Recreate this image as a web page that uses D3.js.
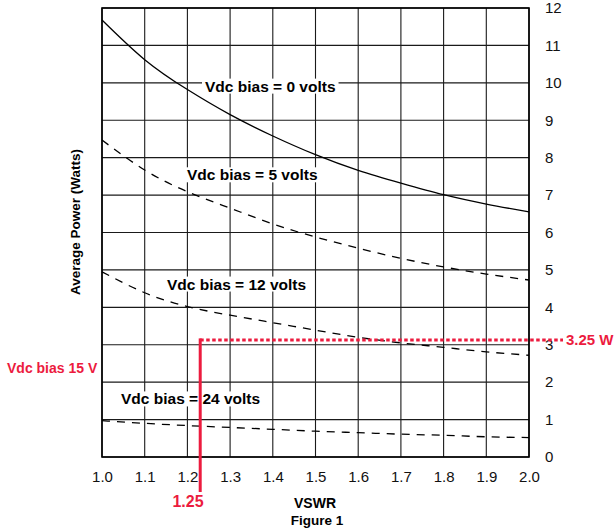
<!DOCTYPE html>
<html>
<head>
<meta charset="utf-8">
<script src="https://cdn.jsdelivr.net/npm/d3@7"></script>
<style>
  body { margin: 0; background: white; }
  svg { display: block; font-family: "Liberation Sans", Arial, sans-serif; }
</style>
</head>
<body>
<div id="chart"></div>
<script>
// VSWR sample points and the four bias curves (watts)
var vswr = [1.0, 1.1, 1.2, 1.3, 1.4, 1.5, 1.6, 1.7, 1.8, 1.9, 2.0];
var bias0 = [11.68, 10.62, 9.82, 9.15, 8.58, 8.08, 7.66, 7.32, 7.01, 6.76, 6.55];
var bias5 = [8.47, 7.67, 7.09, 6.65, 6.23, 5.88, 5.58, 5.31, 5.08, 4.89, 4.73];
var bias12 = [4.95, 4.39, 4.02, 3.79, 3.59, 3.39, 3.2, 3.05, 2.93, 2.81, 2.72];
var bias24 = [0.97, 0.9, 0.84, 0.79, 0.74, 0.69, 0.65, 0.61, 0.58, 0.54, 0.52];
var curveNames = ["Vdc bias = 0 volts", "Vdc bias = 5 volts", "Vdc bias = 12 volts", "Vdc bias = 24 volts"];
var curveDashed = [false, true, true, true];

var xTicks = [1.0, 1.1, 1.2, 1.3, 1.4, 1.5, 1.6, 1.7, 1.8, 1.9, 2.0];
var yTicks = [0, 1, 2, 3, 4, 5, 6, 7, 8, 9, 10, 11, 12];

// red operating point marker
var markerVswr = 1.23, markerWatts = 3.13;
var markerVswrLabel = "1.25", markerWattsLabel = "3.25 W", markerBiasLabel = "Vdc bias 15 V";

var W = 616, H = 529;
var pL = 102, pR = 529, pT = 8, pB = 457;
var red = "#ec1b3e";

var svg = d3.select("#chart").append("svg").attr("width", W).attr("height", H);

var x = d3.scaleLinear().domain([1.0, 2.0]).range([pL, pR]);
var y = d3.scaleLinear().domain([0, 12]).range([pB, pT]);

/* grid */
var grid = svg.append("g").attr("stroke", "#1a1a1a").attr("stroke-width", 1.1);
grid.selectAll("line.v").data(xTicks).enter().append("line")
    .attr("x1", function(d) { return x(d); }).attr("x2", function(d) { return x(d); })
    .attr("y1", pT).attr("y2", pB);
grid.selectAll("line.h").data(yTicks).enter().append("line")
    .attr("x1", pL).attr("x2", pR)
    .attr("y1", function(d) { return y(d); }).attr("y2", function(d) { return y(d); });
svg.append("rect").attr("x", pL).attr("y", pT).attr("width", pR - pL).attr("height", pB - pT)
    .attr("fill", "none").attr("stroke", "#000").attr("stroke-width", 1.6);

/* axes: labels only, no domain */
var xAxis = svg.append("g").attr("transform", "translate(0," + pB + ")")
    .call(d3.axisBottom(x).tickValues(xTicks).tickSize(0).tickPadding(14).tickFormat(d3.format(".1f")));
var yAxis = svg.append("g").attr("transform", "translate(" + pR + ",0)")
    .call(d3.axisRight(y).tickValues(yTicks).tickSize(0).tickPadding(16).tickFormat(d3.format("d")));
[xAxis, yAxis].forEach(function(a) {
    a.select(".domain").remove();
    a.selectAll("text").attr("font-size", 15).attr("fill", "#111")
        .attr("font-family", "'Liberation Sans', Arial, sans-serif");
});

/* curves */
var series = [bias0, bias5, bias12, bias24];
var line = d3.line()
    .x(function(d) { return x(d[0]); })
    .y(function(d) { return y(d[1]); })
    .curve(d3.curveNatural);
series.forEach(function(s, i) {
    svg.append("path")
        .datum(vswr.map(function(v, j) { return [v, s[j]]; }))
        .attr("d", line)
        .attr("fill", "none")
        .attr("stroke", "#000")
        .attr("stroke-width", 1.3)
        .attr("stroke-dasharray", curveDashed[i] ? "8,7" : null);
});

/* curve labels with white backing */
var labelPos = [[205, 9.91], [187, 7.54], [167, 4.62], [121, 1.55]];
curveNames.forEach(function(name, i) {
    var g = svg.append("g");
    var t = g.append("text")
        .attr("x", labelPos[i][0]).attr("y", y(labelPos[i][1]))
        .attr("dy", "0.35em")
        .attr("font-size", 15.5).attr("font-weight", "bold").attr("fill", "#000")
        .text(name);
    var b = t.node().getBBox();
    g.insert("rect", "text")
        .attr("x", b.x - 3).attr("y", b.y + 1).attr("width", b.width + 6).attr("height", b.height - 2)
        .attr("fill", "white");
});

/* red marker */
svg.append("line")
    .attr("x1", x(markerVswr)).attr("x2", 563)
    .attr("y1", y(markerWatts)).attr("y2", y(markerWatts))
    .attr("stroke", red).attr("stroke-width", 3).attr("stroke-dasharray", "3.5,2.5");
svg.append("line")
    .attr("x1", x(markerVswr)).attr("x2", x(markerVswr))
    .attr("y1", y(markerWatts) - 1.5).attr("y2", 492)
    .attr("stroke", red).attr("stroke-width", 3);
svg.append("text")
    .attr("x", 566).attr("y", y(markerWatts)).attr("dy", "0.35em")
    .attr("font-size", 15).attr("font-weight", "bold").attr("fill", red)
    .text(markerWattsLabel);
svg.append("text")
    .attr("x", 188).attr("y", 501).attr("dy", "0.35em").attr("text-anchor", "middle")
    .attr("font-size", 16).attr("font-weight", "bold").attr("fill", red)
    .text(markerVswrLabel);
svg.append("text")
    .attr("x", 7).attr("y", 368).attr("dy", "0.35em")
    .attr("font-size", 14).attr("font-weight", "bold").attr("fill", red)
    .text(markerBiasLabel);

/* titles */
svg.append("text")
    .attr("transform", "translate(80,222) rotate(-90)")
    .attr("text-anchor", "middle")
    .attr("font-size", 13.5).attr("font-weight", "bold")
    .text("Average Power (Watts)");
svg.append("text")
    .attr("x", 315).attr("y", 503).attr("dy", "0.35em").attr("text-anchor", "middle")
    .attr("font-size", 14).attr("font-weight", "bold")
    .text("VSWR");
svg.append("text")
    .attr("x", 317).attr("y", 520).attr("dy", "0.35em").attr("text-anchor", "middle")
    .attr("font-size", 13.5).attr("font-weight", "bold")
    .text("Figure 1");
</script>
</body>
</html>
